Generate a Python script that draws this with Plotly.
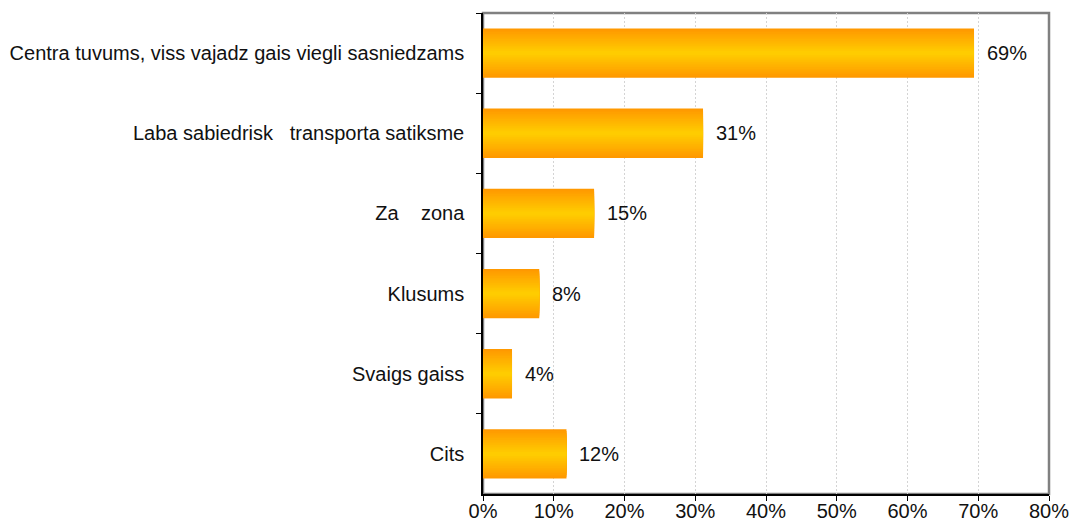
import plotly.graph_objects as go

categories = [
    "Centra tuvums, viss vajadz gais viegli sasniedzams",
    "Laba sabiedrisk\u00a0\u00a0\u00a0transporta satiksme",
    "Za\u00a0\u00a0\u00a0\u00a0zona",
    "Klusums",
    "Svaigs gaiss",
    "Cits",
]
values = [69.4, 31.1, 15.7, 7.95, 4.1, 11.8]
labels = ["69%", "31%", "15%", "8%", "4%", "12%"]
tick_vals = [0, 10, 20, 30, 40, 50, 60, 70, 80]
tick_text = ["0%", "10%", "20%", "30%", "40%", "50%", "60%", "70%", "80%"]

FONT = "Liberation Sans, Arial, sans-serif"
FS = 20

fig = go.Figure()

# simulate vertical gradient (orange edges -> yellow centre) with stacked overlay bars
steps = 14
full_w = 0.615
c_edge = (255, 153, 0)
c_mid = (255, 204, 0)
for i in range(steps):
    t = i / (steps - 1)
    w = full_w * (1 - t * 0.92)
    col = tuple(int(round(c_edge[k] + (c_mid[k] - c_edge[k]) * t)) for k in range(3))
    fig.add_trace(go.Bar(
        x=values, y=categories, orientation="h", width=w,
        marker=dict(color="rgb(%d,%d,%d)" % col, line=dict(width=0)),
        hoverinfo="skip", showlegend=False,
    ))

for v, c, lab in zip(values, categories, labels):
    fig.add_annotation(x=v, y=c, text=lab, showarrow=False, xanchor="left",
                       xshift=11, font=dict(family=FONT, size=FS, color="#111"))

fig.add_shape(type="rect", xref="paper", yref="paper", x0=0, y0=0, x1=1, y1=1,
              line=dict(color="#808080", width=2.5), layer="below")

fig.update_layout(
    width=1070, height=523,
    barmode="overlay",
    paper_bgcolor="white", plot_bgcolor="white",
    margin=dict(l=483, r=21, t=13, b=29, autoexpand=False),
    font=dict(family=FONT, size=FS, color="#111"),
    xaxis=dict(range=[0, 80], tickvals=tick_vals, ticktext=tick_text,
               showgrid=True, gridcolor="#d4d4d4", griddash="2px,2px", gridwidth=1,
               showline=True, linecolor="black", linewidth=1.5, automargin=False,
               ticks="outside", ticklen=5, tickcolor="black", zeroline=False,
               ticklabelstandoff=-7,
               tickfont=dict(family=FONT, size=FS, color="#111")),
    yaxis=dict(autorange="reversed", showline=True, linecolor="black", linewidth=1.5,
               ticks="outside", ticklen=5, tickcolor="black", tickson="boundaries",
               showgrid=False, ticklabelstandoff=13, automargin=False,
               tickfont=dict(family=FONT, size=FS, color="#111")),
)

fig.write_html("out.html",
               config={"displayModeBar": False},
               post_script="document.body.style.margin='0';document.body.style.overflow='hidden';")
